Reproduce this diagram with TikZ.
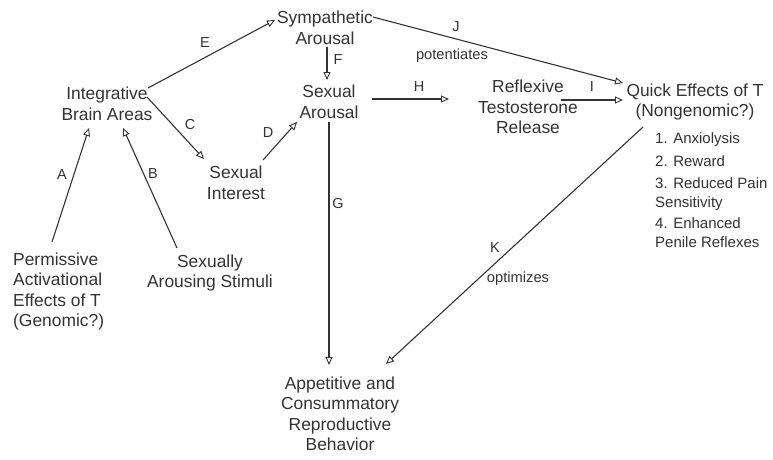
\documentclass[tikz,border=0pt]{standalone}
\usepackage{fontspec}
\setmainfont{Liberation Sans}
\usetikzlibrary{arrows.meta}
\definecolor{ink}{HTML}{333333}
\begin{document}
\begin{tikzpicture}[x=1pt,y=-1pt,
  box/.style={inner sep=0pt, align=center, text=ink, font=\fontsize{17.4}{20.5}\selectfont},
  lst/.style={inner sep=0pt, align=left, text=ink, font=\fontsize{15}{18.5}\selectfont},
  lbl/.style={inner sep=0pt, text=ink, font=\fontsize{14.5}{16}\selectfont},
  sml/.style={inner sep=0pt, text=ink, font=\fontsize{14.7}{16}\selectfont},
  arr/.style={draw=ink, line width=1.1pt, -{Triangle[open, length=8pt, width=7pt, line width=0.9pt]}}]
\useasboundingbox (0,0) rectangle (773,460);
\fill[white] (0,0) rectangle (773,460);
% nodes
\node[box] (symp) at (325,28) {Sympathetic\\Arousal};
\node[box] (sexar) at (329,102) {Sexual\\Arousal};
\node[box] (iba) at (107,104) {Integrative\\Brain Areas};
\node[box] (sint) at (236,183) {Sexual\\Interest};
\node[box] (refl) at (528,107) {Reflexive\\Testosterone\\Release};
\node[box] (quick) at (695,102) {Quick Effects of T\\(Nongenomic?)};
\node[lst, anchor=west] (effects) at (655,190) {1. Anxiolysis\\[4pt]2. Reward\\[4pt]3. Reduced Pain\\Sensitivity\\[3pt]4. Enhanced\\Penile Reflexes};
\node[box, align=left, anchor=west] (perm) at (13,291.5) {Permissive\\Activational\\Effects of T\\(Genomic?)};
\node[box] (stim) at (210,273) {Sexually\\Arousing Stimuli};
\node[box] (app) at (340,414) {Appetitive and\\Consummatory\\Reproductive\\Behavior};
% connector ends
\coordinate (a1) at (52,242);  \coordinate (a2) at (89,128);
\coordinate (b1) at (177,248); \coordinate (b2) at (123,128);
\coordinate (c1) at (147,97);  \coordinate (c2) at (204,159);
\coordinate (d1) at (263,160); \coordinate (d2) at (297,122);
\coordinate (e1) at (148,88);  \coordinate (e2) at (275,20);
\coordinate (f1) at (327,47);  \coordinate (f2) at (327,80);
\coordinate (g1) at (329,122); \coordinate (g2) at (329,365);
\coordinate (h1) at (372,99);  \coordinate (h2) at (449,99);
\coordinate (i1) at (561,100); \coordinate (i2) at (623,100);
\coordinate (j1) at (373,17);  \coordinate (j2) at (623,83);
\coordinate (k1) at (643,127); \coordinate (k2) at (386,364);
% connectors
\draw[arr] (a1) -- (a2);
\draw[arr] (b1) -- (b2);
\draw[arr] (c1) -- (c2);
\draw[arr] (d1) -- (d2);
\draw[arr] (e1) -- (e2);
\draw[arr] (f1) -- (f2);
\draw[arr] (g1) -- (g2);
\draw[arr] (h1) -- (h2);
\draw[arr] (i1) -- (i2);
\draw[arr] (j1) -- (j2);
\draw[arr] (k1) -- (k2);
% labels
\node[lbl] (la) at (62,175) {A};
\node[lbl] (lb) at (153,174) {B};
\node[lbl] (lc) at (190,125) {C};
\node[lbl] (ld) at (268,133) {D};
\node[lbl] (le) at (205,43) {E};
\node[lbl] (lf) at (338,60) {F};
\node[lbl] (lg) at (338,204) {G};
\node[lbl] (lh) at (419,87) {H};
\node[lbl] (li) at (592,87) {I};
\node[lbl] (lj) at (456,27) {J};
\node[sml] (pot) at (452,56) {potentiates};
\node[lbl] (lk) at (495,248) {K};
\node[sml] (opt) at (518,279) {optimizes};
\end{tikzpicture}
\end{document}
